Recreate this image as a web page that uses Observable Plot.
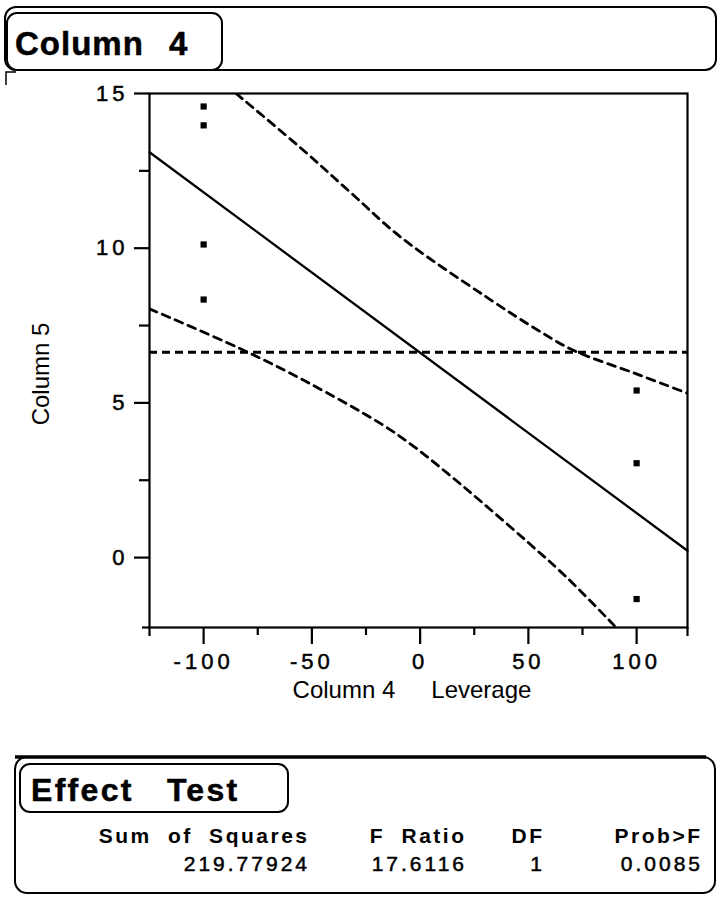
<!DOCTYPE html>
<html>
<head>
<meta charset="utf-8">
<script src="https://cdn.jsdelivr.net/npm/d3@7"></script>
<script src="https://cdn.jsdelivr.net/npm/@observablehq/plot@0.6"></script>
<style>
  html, body { margin: 0; padding: 0; background: #fff; }
  #page { position: relative; width: 718px; height: 900px; overflow: hidden;
          font-family: "Liberation Sans", Arial, sans-serif; color: #000; }
  #page > svg { position: absolute; left: 0; top: 0; }
  #page text.heavy { stroke: #000; stroke-width: 0.5px; }
</style>
</head>
<body>
<div id="page"></div>
<script>
// Leverage plot of Column 5 against Column 4
const lowX = [-100, -100, -100, -100];
const lowY = [14.58, 13.97, 10.12, 8.34];
const highX = [100, 100, 100];
const highY = [5.40, 3.05, -1.34];

// fitted line, its confidence curves and the mean of Column 5
const fitX = [-125, 123.5];
const fitY = [13.10, 0.22];
const meanY = 6.64;
const upperX = [-85, -55, -32, -9, 30, 56, 71, 99, 123.5];
const upperY = [15.0, 13.23, 11.79, 10.36, 8.45, 7.28, 6.69, 5.96, 5.31];
const lowerX = [-125, -83, -53.5, -18, -2.7, 12.7, 28, 49.7, 68, 89.7];
const lowerY = [8.04, 6.75, 5.72, 4.32, 3.58, 2.72, 1.82, 0.50, -0.66, -2.20];

// axes
const xDomain = [-125, 123.5];
const yDomain = [-2.26, 15];
const xTicks = [-100, -50, 0, 50, 100];
const xMinor = [-75, -25, 25, 75];
const yTicks = [0, 5, 10, 15];
const yMinor = [2.5, 7.5, 12.5];
const xTitle = "Column 4\u2003\u2002Leverage";
const yTitle = "Column 5";

// Effect Test table
const headers = ["Sum of Squares", "F Ratio", "DF", "Prob>F"];
const values = ["219.77924", "17.6116", "1", "0.0085"];

const zip = (xs, ys) => xs.map((x, i) => ({x, y: ys[i]}));
const points = zip(lowX, lowY).concat(zip(highX, highY));
const fit = zip(fitX, fitY);
const upper = zip(upperX, upperY);
const lower = zip(lowerX, lowerY);
const fmt = d => String(d);

const chart = Plot.plot({
  width: 718,
  height: 720,
  marginLeft: 149,
  marginRight: 31,
  marginTop: 93,
  marginBottom: 93,
  x: {domain: xDomain},
  y: {domain: yDomain},
  style: {fontFamily: "'Liberation Sans', Arial, sans-serif", color: "#000", background: "transparent", letterSpacing: "4px"},
  marks: [
    Plot.ruleY([meanY], {stroke: "#000", strokeWidth: 3, strokeDasharray: "8,5"}),
    Plot.line(upper, {x: "x", y: "y", stroke: "#000", strokeWidth: 2.8, strokeDasharray: "8,6", curve: "catmull-rom", clip: true}),
    Plot.line(lower, {x: "x", y: "y", stroke: "#000", strokeWidth: 2.8, strokeDasharray: "8,6", curve: "catmull-rom", clip: true}),
    Plot.line(fit, {x: "x", y: "y", stroke: "#000", strokeWidth: 2.3}),
    Plot.dot(points, {x: "x", y: "y", symbol: "square", r: 3.5, fill: "#000", stroke: null}),
    Plot.frame({stroke: "#000", strokeWidth: 2.2}),
    Plot.axisX(xTicks, {anchor: "bottom", tickSize: 17, tickPadding: 9, strokeWidth: 2.2, fontSize: 22, tickFormat: fmt, label: null}),
    Plot.axisX(xMinor, {anchor: "bottom", tickSize: 8, strokeWidth: 2.2, text: null, label: null}),
    Plot.axisX(xDomain, {anchor: "bottom", tickSize: 9, strokeWidth: 2.2, text: null, label: null}),
    Plot.axisY(yTicks, {anchor: "left", tickSize: 15, tickPadding: 6, strokeWidth: 2.2, fontSize: 22, tickFormat: fmt, label: null}),
    Plot.axisY(yMinor, {anchor: "left", tickSize: 10, strokeWidth: 2.2, text: null, label: null}),
    Plot.axisY([yDomain[0]], {anchor: "left", tickSize: 7, strokeWidth: 2.2, text: null, label: null})
  ]
});
// heavier tick numerals, as printed
chart.querySelectorAll('g[aria-label$="tick label"] text').forEach(t => t.classList.add("heavy"));
document.getElementById("page").appendChild(chart);

// panels, headings, axis titles and the table
const deco = d3.select("#page").append("svg")
  .attr("width", 718).attr("height", 900)
  .style("font-family", "'Liberation Sans', Arial, sans-serif");

const stroke = g => g.attr("fill", "none").attr("stroke", "#000").attr("stroke-width", 2);

// header bar with the "Column 4" tab
deco.append("rect").attr("x", 5).attr("y", 7).attr("width", 711).attr("height", 63).attr("rx", 11).call(stroke);
deco.append("rect").attr("x", 7).attr("y", 13).attr("width", 215).attr("height", 57).attr("rx", 10)
  .attr("fill", "#fff").attr("stroke", "#000").attr("stroke-width", 2);
deco.append("text").attr("x", 15).attr("y", 55).attr("font-size", 33).attr("font-weight", "bold")
  .attr("letter-spacing", 1).attr("word-spacing", 15).attr("class", "heavy").text("Column 4");
deco.append("path").attr("d", "M6,85 V72 H16").call(stroke).attr("stroke-width", 1.5);

// axis titles
deco.append("text").attr("x", 412).attr("y", 698).attr("text-anchor", "middle").attr("font-size", 24)
  .attr("xml:space", "preserve").text(xTitle);
deco.append("text").attr("transform", "translate(49,374) rotate(-90)").attr("text-anchor", "middle")
  .attr("font-size", 24).text(yTitle);

// Effect Test panel
deco.append("rect").attr("x", 15).attr("y", 757).attr("width", 700).attr("height", 136).attr("rx", 12).call(stroke);
deco.append("line").attr("x1", 15).attr("x2", 706).attr("y1", 757).attr("y2", 757)
  .attr("stroke", "#000").attr("stroke-width", 3.5);
deco.append("rect").attr("x", 20).attr("y", 764).attr("width", 268).attr("height", 48).attr("rx", 10)
  .attr("fill", "#fff").attr("stroke", "#000").attr("stroke-width", 2);
deco.append("text").attr("x", 31).attr("y", 801).attr("font-size", 32).attr("font-weight", "bold")
  .attr("letter-spacing", 2.3).attr("word-spacing", 22).attr("class", "heavy").text("Effect Test");

const colRight = [307, 464, 542, 700];
headers.forEach((h, i) => {
  deco.append("text").attr("x", colRight[i] + 2.5).attr("y", 843).attr("text-anchor", "end")
    .attr("font-size", 21).attr("font-weight", "bold").attr("letter-spacing", 2.5).attr("word-spacing", 8).text(h);
  deco.append("text").attr("x", colRight[i] + 3).attr("y", 871).attr("text-anchor", "end")
    .attr("font-size", 21).attr("letter-spacing", 3).attr("class", "heavy").text(values[i]);
});
</script>
</body>
</html>
